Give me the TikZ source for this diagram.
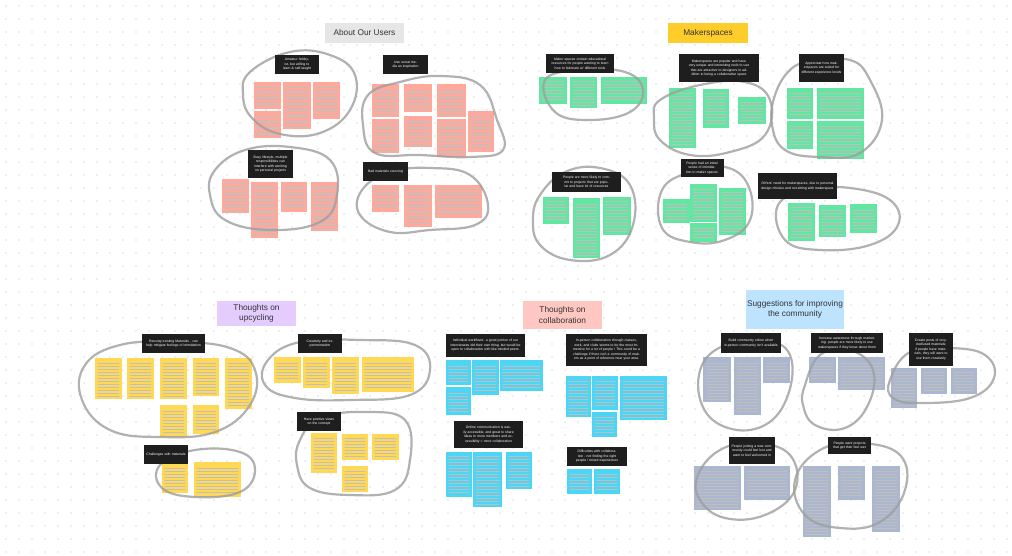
\documentclass[tikz,border=0pt]{standalone}
\usepackage{fontspec}
\setmainfont{Liberation Sans}
\usetikzlibrary{patterns}

\definecolor{hdr}{HTML}{1E1E1E}
\definecolor{titletext}{HTML}{333333}
\definecolor{dotc}{HTML}{BDBDBD}
\definecolor{lassogray}{HTML}{9E9E9E}
\definecolor{usrtitle}{HTML}{E6E6E6}
\definecolor{mkrtitle}{HTML}{FFCD29}
\definecolor{upctitle}{HTML}{E4CCFF}
\definecolor{coltitle}{HTML}{FFC7C2}
\definecolor{sugtitle}{HTML}{BDE3FF}
\definecolor{usrnote}{HTML}{FFA89C}
\definecolor{mkrnote}{HTML}{62E6A2}
\definecolor{upcnote}{HTML}{FFD955}
\definecolor{colnote}{HTML}{4DD5F5}
\definecolor{sugnote}{HTML}{AAB7CF}

\tikzset{
  clusterhead/.style={fill=hdr, text=white, align=center, inner sep=1pt,
    font=\fontsize{3.4}{4.5}\selectfont},
  sticky/.style={anchor=north west, inner sep=0pt,
    path picture={\fill[pattern=horizontal lines, pattern color=black!25]
      ([shift={(2.5pt,-4pt)}]path picture bounding box.north west) rectangle
      ([shift={(-3pt,3pt)}]path picture bounding box.south east);}},
  catbox/.style={text=titletext, align=center, inner sep=1pt,
    font=\fontsize{8.3}{10.5}\selectfont},
  lasso/.style={draw=lassogray, line width=2.2pt, line cap=round, opacity=0.8},
}

\begin{document}
\begin{tikzpicture}[x=1pt,y=-1pt]
  \useasboundingbox (0,0) rectangle (1012,556);
  \fill[white] (0,0) rectangle (1012,556);

  % Dot grid of the board
  \foreach \gx in {0,...,77}
    \foreach \gy in {0,...,42}
      \fill[dotc] ({6+13*\gx},{6+13*\gy}) circle (0.6);

  % Category titles
  \node[catbox, fill=usrtitle, minimum width=79pt, minimum height=20pt] (users) at (364.5,33) {About Our Users};
  \node[catbox, fill=mkrtitle, minimum width=80pt, minimum height=20pt] (makers) at (708,33) {Makerspaces};
  \node[catbox, fill=upctitle, minimum width=79pt, minimum height=25pt] (upcycle) at (256.5,313.5) {Thoughts on\\upcycling};
  \node[catbox, fill=coltitle, minimum width=79pt, minimum height=28pt] (collab) at (562.5,315) {Thoughts on\\collaboration};
  \node[catbox, fill=sugtitle, minimum width=98pt, minimum height=39pt] (suggest) at (795,309.5) {Suggestions for improving\\the community};

  % Sticky notes: x/y/width/height
  \foreach \x/\y/\w/\h [count=\i] in {254/82/27/27, 283/82/28/47, 313/82/27/37, 254/111/27/27,
      372/84/27/33, 404/84/28/28, 437/84/29/33, 372/119/27/34, 404/116/28/31, 437/119/29/38,
      468/111/26/41, 222/179/27/34, 251/182/27/56, 281/182/26/30, 311/182/27/49,
      372/185/27/27, 404/185/28/42, 435/185/47/33}
    \node[sticky, fill=usrnote, minimum width=\w pt, minimum height=\h pt] (usr\i) at (\x,\y) {};

  \foreach \x/\y/\w/\h [count=\i] in {539/77/28/27, 570/77/27/31, 601/77/46/27,
      669/88/27/60, 703/89/26/39, 738/97/28/27, 787/88/26/31, 817/88/47/31, 787/121/26/28,
      817/121/47/38, 543/197/26/27, 573/198/27/60, 603/197/28/38, 663/199/27/24,
      690/184/27/38, 690/223/27/19, 719/188/27/47, 788/203/27/38, 819/205/27/32, 850/204/27/29}
    \node[sticky, fill=mkrnote, minimum width=\w pt, minimum height=\h pt] (mkr\i) at (\x,\y) {};

  \foreach \x/\y/\w/\h [count=\i] in {95/358/27/41, 127/358/27/41, 160/358/27/41,
      193/358/26/38, 225/358/27/51, 160/405/27/32, 193/405/26/29, 274/357/27/26,
      303/357/27/31, 332/357/27/37, 362/357/52/35, 311/433/26/40, 342/434/26/26,
      372/434/27/26, 342/466/26/26, 162/464/26/29, 194/462/47/35}
    \node[sticky, fill=upcnote, minimum width=\w pt, minimum height=\h pt] (upc\i) at (\x,\y) {};

  \foreach \x/\y/\w/\h [count=\i] in {446/360/25/25, 472/360/27/35, 500/360/43/31,
      446/387/25/28, 566/376/25/41, 592/376/26/34, 620/376/47/44, 592/412/25/25,
      446/452/26/45, 473/452/29/55, 506/452/26/37, 567/469/25/25, 594/469/26/25}
    \node[sticky, fill=colnote, minimum width=\w pt, minimum height=\h pt] (col\i) at (\x,\y) {};

  \foreach \x/\y/\w/\h [count=\i] in {703/357/28/45, 734/357/27/58, 763/357/27/26,
      809/357/27/26, 838/357/47/33, 891/368/26/40, 921/368/26/26, 951/368/26/26,
      694/466/47/44, 744/466/46/34, 803/466/28/71, 838/466/27/34, 872/466/28/66}
    \node[sticky, fill=sugnote, minimum width=\w pt, minimum height=\h pt] (sug\i) at (\x,\y) {};

  % Hand drawn lassos round the clusters
  \draw[lasso] plot[smooth cycle, tension=0.7] coordinates {(250,72) (290,52) (330,55) (355,75) (350,110) (320,133) (280,134) (252,118) (243,95)};
  \draw[lasso] plot[smooth cycle, tension=0.7] coordinates {(368,95) (400,82) (440,76) (480,85) (497,120) (503,150) (470,157) (420,155) (375,153) (363,125)};
  \draw[lasso] plot[smooth cycle, tension=0.7] coordinates {(215,170) (245,150) (290,147) (330,160) (337,195) (320,222) (270,230) (225,220) (210,195)};
  \draw[lasso] plot[smooth cycle, tension=0.7] coordinates {(362,190) (390,172) (430,168) (470,175) (488,205) (475,225) (430,230) (390,232) (360,215)};
  \draw[lasso] plot[smooth cycle, tension=0.7] coordinates {(545,80) (580,70) (625,72) (643,90) (630,112) (590,120) (555,112)};
  \draw[lasso] plot[smooth cycle, tension=0.7] coordinates {(660,100) (700,85) (745,82) (770,100) (765,135) (730,152) (690,155) (660,140) (654,118)};
  \draw[lasso] plot[smooth cycle, tension=0.7] coordinates {(775,95) (790,70) (810,62) (850,60) (870,80) (882,120) (860,153) (820,157) (785,150) (772,125)};
  \draw[lasso] plot[smooth cycle, tension=0.7] coordinates {(540,195) (565,172) (600,168) (630,185) (633,225) (610,255) (570,260) (540,245) (533,220)};
  \draw[lasso] plot[smooth cycle, tension=0.7] coordinates {(662,190) (690,172) (725,167) (748,185) (750,220) (725,240) (690,242) (662,228)};
  \draw[lasso] plot[smooth cycle, tension=0.7] coordinates {(778,205) (810,190) (850,188) (890,200) (898,225) (870,245) (820,250) (785,240)};
  \draw[lasso] plot[smooth cycle, tension=0.7] coordinates {(85,365) (120,345) (175,342) (230,348) (255,370) (250,405) (215,432) (160,437) (110,430) (82,400)};
  \draw[lasso] plot[smooth cycle, tension=0.7] coordinates {(268,360) (300,342) (360,340) (415,345) (430,370) (410,395) (350,400) (295,398) (265,385)};
  \draw[lasso] plot[smooth cycle, tension=0.7] coordinates {(300,440) (320,418) (365,412) (405,420) (410,460) (395,490) (350,495) (310,488) (297,465)};
  \draw[lasso] plot[smooth cycle, tension=0.7] coordinates {(160,465) (195,450) (240,452) (255,470) (240,492) (195,497) (162,488)};
  \draw[lasso] plot[smooth cycle, tension=0.7] coordinates {(702,365) (730,343) (765,340) (790,355) (788,395) (765,425) (728,428) (702,405)};
  \draw[lasso] plot[smooth cycle, tension=0.7] coordinates {(805,385) (820,355) (850,350) (873,370) (868,405) (845,428) (815,425) (803,405)};
  \draw[lasso] plot[smooth cycle, tension=0.7] coordinates {(890,380) (910,352) (950,348) (985,355) (994,378) (970,398) (920,403) (893,398)};
  \draw[lasso] plot[smooth cycle, tension=0.7] coordinates {(698,475) (720,450) (755,443) (790,455) (795,490) (765,515) (725,518) (700,500)};
  \draw[lasso] plot[smooth cycle, tension=0.7] coordinates {(795,480) (820,450) (860,443) (900,455) (905,490) (880,522) (840,528) (805,515)};

  % Cluster headings
  \node[clusterhead, minimum width=44pt, minimum height=19pt, text width=40pt] (hobby) at (297,64.5) {Amateur hobbyist, but willing to learn \& self-taught};
  \node[clusterhead, minimum width=45pt, minimum height=19pt, text width=41pt] (social) at (405.5,64.5) {Use social media as inspiration};
  \node[clusterhead, minimum width=45pt, minimum height=28pt, text width=41pt] (busy) at (270.5,164) {Busy lifestyle, multiple responsibilities can interfere with working on personal projects};
  \node[clusterhead, minimum width=45pt, minimum height=19pt, text width=41pt] (sourcing) at (385.5,171.5) {Bad materials sourcing};

  \node[clusterhead, minimum width=68pt, minimum height=19pt, text width=64pt] (learn) at (580,63.5) {Maker spaces contain educational resources for people wanting to learn how to fabricate w/ different tools};
  \node[clusterhead, minimum width=80pt, minimum height=28pt, text width=76pt] (tools) at (719,68) {Makerspaces are popular and have very unique and interesting tools to use that are attractive to designers in addition to being a collaborative space};
  \node[clusterhead, minimum width=45pt, minimum height=28pt, text width=41pt] (levels) at (821.5,68) {Appreciate how makerspaces are suited for different experience levels};
  \node[clusterhead, minimum width=69pt, minimum height=20pt, text width=65pt] (popular) at (586.5,182) {People are more likely to commit to projects that are popular and have lot of resources};
  \node[clusterhead, minimum width=43pt, minimum height=18pt, text width=40pt] (intim) at (702,168) {People had an initial sense of intimidation in maker spaces};
  \node[clusterhead, minimum width=79pt, minimum height=26pt, text width=75pt] (diy) at (797.5,186) {DIYers' need for makerspaces, due to personal design choices and not-sitting with makerspace};

  \node[clusterhead, minimum width=63pt, minimum height=19pt, text width=59pt] (reuse) at (173.5,343.5) {Reusing existing Materials , can help mitigate feelings of intimidation};
  \node[clusterhead, minimum width=44pt, minimum height=19pt, text width=40pt] (creative) at (320,343.5) {Creativity and experimentation};
  \node[clusterhead, minimum width=44pt, minimum height=19pt, text width=40pt] (views) at (319,421.5) {Have positive views on the concept};
  \node[clusterhead, minimum width=44pt, minimum height=19pt, text width=40pt] (matl) at (166,454.5) {Challenges with materials};

  \node[clusterhead, minimum width=79pt, minimum height=23pt, text width=75pt] (indiv) at (485.5,345.5) {Individual workflows: a good portion of our interviewees did their own thing, but would be open to collaboration with like-minded peers.};
  \node[clusterhead, minimum width=81pt, minimum height=32pt, text width=77pt] (inperson) at (606.5,350) {In-person collaboration through classes, work, and clubs seems to be the most immersive for a lot of people / This could be a challenge if there isn't a community of makers as a point of reference near your area.};
  \node[clusterhead, minimum width=69pt, minimum height=27pt, text width=65pt] (online) at (488.5,434.5) {Online communication is easily accessible, and great to share ideas to more members and accessibility = more collaboration};
  \node[clusterhead, minimum width=60pt, minimum height=19pt, text width=56pt] (diffic) at (597,456.5) {Difficulties with collaboration - not finding the right people / mixed experiences};

  \node[clusterhead, minimum width=60pt, minimum height=20pt, text width=56pt] (online2) at (751,343) {Build community online when in-person community isn't available};
  \node[clusterhead, minimum width=72pt, minimum height=20pt, text width=68pt] (aware) at (847,343) {Increase awareness through marketing: people are more likely to use makerspaces if they know about them};
  \node[clusterhead, minimum width=44pt, minimum height=33pt, text width=40pt] (posts) at (931,349.5) {Create posts of recycled/used materials; if people have materials, they will want to use them creatively};
  \node[clusterhead, minimum width=46pt, minimum height=27pt, text width=42pt] (welcome) at (752,450.5) {People joining a new community could feel lost and want to feel welcomed in};
  \node[clusterhead, minimum width=43pt, minimum height=17pt, text width=39pt] (feetwet) at (849.5,445.5) {People want projects that get their feet wet};
\end{tikzpicture}
\end{document}
